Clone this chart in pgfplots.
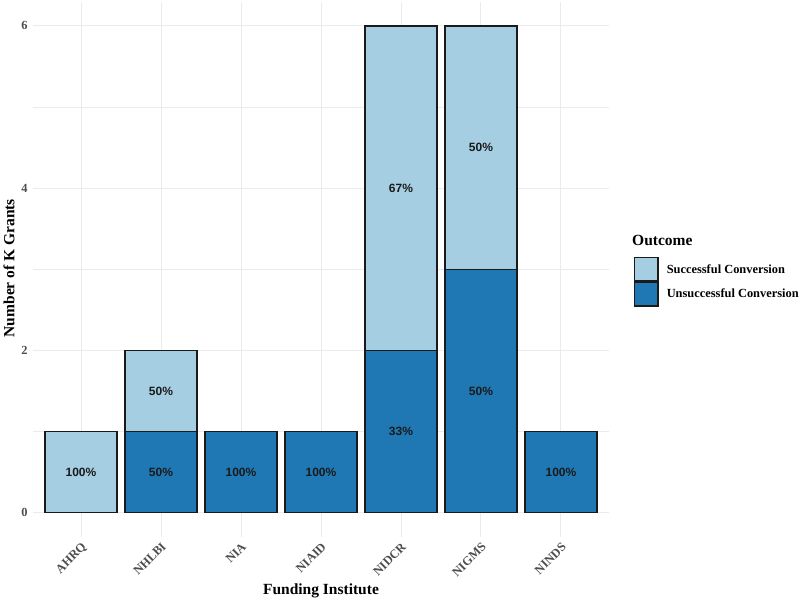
\documentclass[border=0pt]{standalone}
\usepackage{pgfplots}
\pgfplotsset{compat=1.18}
\usepackage{fontspec}
\setmainfont{Liberation Serif}
\newfontfamily\sansb{Liberation Sans}
\definecolor{succ}{HTML}{A6CEE3}
\definecolor{unsucc}{HTML}{1F78B4}
\definecolor{gridc}{HTML}{EBEBEB}
\definecolor{tickc}{HTML}{4D4D4D}
\definecolor{barc}{HTML}{1A1A1A}
\pgfplotsset{mylegend/.style={legend image code/.code={\draw[##1, line width=1.3pt] (0pt,-11.75pt) rectangle (23.5pt,11.75pt);}}}
\begin{document}
\begin{tikzpicture}[x=1pt,y=1pt]
\useasboundingbox (0,0) rectangle (800,602);
\begin{axis}[
  at={(33pt,65pt)}, anchor=south west,
  scale only axis, width=576pt, height=535.4pt,
  xmin=0.4, xmax=7.6, ymin=-0.3, ymax=6.3,
  ybar stacked, bar width=0.9,
  mylegend,
  xtick={1,2,3,4,5,6,7},
  xticklabels={AHRQ,NHLBI,NIA,NIAID,NIDCR,NIGMS,NINDS},
  ytick={0,2,4,6}, minor ytick={1,3,5},
  major tick length=0pt, minor tick length=0pt,
  tick style={draw=none},
  axis line style={draw=none},
  xmajorgrids, ymajorgrids, yminorgrids,
  major grid style={gridc, line width=1pt},
  minor grid style={gridc, line width=0.6pt},
  /pgf/number format/assume math mode=true,
  x tick label style={rotate=45, anchor=north east, text=tickc, font=\bfseries\fontsize{12.4}{14}\selectfont},
  y tick label style={text=tickc, font=\bfseries\fontsize{12.4}{14}\selectfont, xshift=-2pt},
  xlabel={Funding Institute},
  ylabel={Number of K Grants},
  xlabel style={at={(axis description cs:0.5,-0.101)}, anchor=center, font=\bfseries\fontsize{15.5}{18}\selectfont},
  ylabel style={at={(axis description cs:-0.0417,0.502)}, anchor=center, rotate=0, font=\bfseries\fontsize{15.5}{18}\selectfont},
  reverse legend,
  legend style={at={(axis description cs:1.0434,0.523)}, anchor=north west, draw=none, fill=none,
    inner sep=0pt, outer sep=0pt, row sep=0pt, column sep=8pt,
    font=\bfseries\fontsize{12.4}{14}\selectfont,
    nodes={inner sep=0pt, outer sep=0pt}},
  legend cell align=left,
]
\addplot[fill=unsucc, draw=barc, line width=1.3pt, mylegend] coordinates {(1,0) (2,1) (3,1) (4,1) (5,2) (6,3) (7,1)};
\addlegendentry{Unsuccessful Conversion}
\addplot[fill=succ, draw=barc, line width=1.3pt, mylegend] coordinates {(1,1) (2,1) (3,0) (4,0) (5,4) (6,3) (7,0)};
\addlegendentry{Successful Conversion}
\end{axis}
\begin{axis}[
  at={(33pt,65pt)}, anchor=south west,
  scale only axis, width=576pt, height=535.4pt,
  xmin=0.4, xmax=7.6, ymin=-0.3, ymax=6.3,
  hide axis,
]
\addplot[only marks, mark=*, mark size=0pt, mark options={draw=none, fill=none},
  point meta=explicit symbolic,
  nodes near coords={\pgfplotspointmeta\%},
  every node near coord/.append style={anchor=center, font=\sansb\bfseries\fontsize{12}{14}\selectfont, text=barc}]
  table[x=x, y=y, meta=lab] {
x y lab
1 0.5 100
2 1.5 50
2 0.5 50
3 0.5 100
4 0.5 100
5 4.0 67
5 1.0 33
6 4.5 50
6 1.5 50
7 0.5 100
};
\end{axis}
\node[anchor=west, font=\bfseries\fontsize{15.5}{18}\selectfont, inner sep=0pt] at (632,362) {Outcome};
\end{tikzpicture}
\end{document}
